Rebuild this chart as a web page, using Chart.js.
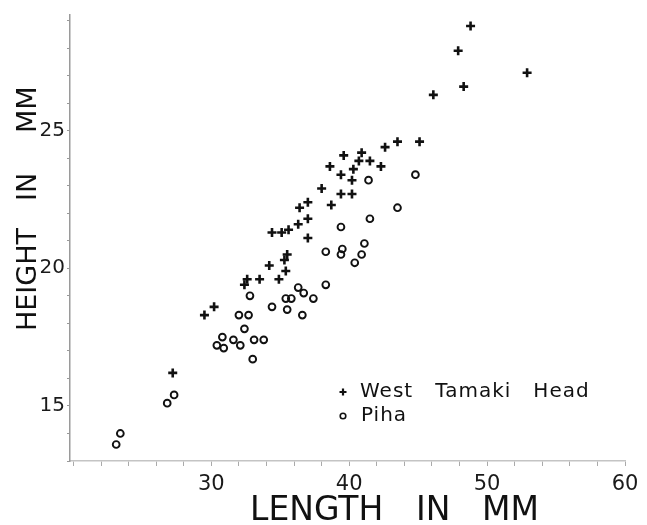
<!DOCTYPE html>
<html>
<head>
<meta charset="utf-8">
<script src="https://cdn.jsdelivr.net/npm/chart.js@4"></script>
<style>
    body { margin: 0; background: #fff; }
</style>
</head>
<body>
<canvas id="shellChart" width="647" height="525"></canvas>
<script>
const westLength = [48.8, 47.9, 52.9, 48.3, 46.1, 45.1, 43.5, 42.6, 40.9, 39.6, 40.7, 41.5, 42.3, 38.6, 40.3, 39.4, 40.2, 38.0, 39.4, 40.2,
    37.0, 36.4, 38.7, 37.0, 36.3, 35.6, 35.1, 34.4, 37.0, 35.5, 35.3, 34.2, 35.4, 33.5, 34.9, 32.6, 32.4, 30.2, 29.5, 27.2];
const westHeight = [28.8, 27.9, 27.1, 26.6, 26.3, 24.6, 24.6, 24.4, 24.2, 24.1, 23.9, 23.9, 23.7, 23.7, 23.6, 23.4, 23.2, 22.9, 22.7, 22.7,
    22.4, 22.2, 22.3, 21.8, 21.6, 21.4, 21.3, 21.3, 21.1, 20.5, 20.3, 20.1, 19.9, 19.6, 19.6, 19.6, 19.4, 18.6, 18.3, 16.2];

const pihaLength = [44.8, 41.4, 43.5, 41.5, 39.4, 41.1, 40.9, 40.4, 39.5, 39.4, 38.3, 38.3, 36.3, 36.7, 37.4, 35.4, 35.8, 35.5,
    36.6, 34.4, 32.8, 32.0, 32.7, 32.4, 30.8, 30.4, 30.9, 31.6, 32.1, 33.1, 33.8, 33.0, 27.3, 26.8, 23.4, 23.1];
const pihaHeight = [23.4, 23.2, 22.2, 21.8, 21.5, 20.9, 20.5, 20.2, 20.7, 20.5, 20.6, 19.4, 19.3, 19.1, 18.9, 18.9, 18.9, 18.5,
    18.3, 18.6, 19.0, 18.3, 18.3, 17.8, 17.5, 17.2, 17.1, 17.4, 17.2, 17.4, 17.4, 16.7, 15.4, 15.1, 14.0, 13.6];

const xTickLabels = [30, 40, 50, 60];
const yTickLabels = [15, 20, 25];
const seriesNames = ['West Tamaki Head', 'Piha'];

const font = '"DejaVu Sans", sans-serif';

function toPoints(xs, ys) {
    return xs.map((x, i) => ({ x: x, y: ys[i] }));
}

// titles and the legend box inside the plot are drawn by hand
const labelsPlugin = {
    id: 'labels',
    afterDraw(chart) {
        const ctx = chart.ctx;
        ctx.save();
        ctx.fillStyle = '#111';
        ctx.textBaseline = 'alphabetic';

        // x title
        ctx.font = '33px ' + font;
        ctx.textAlign = 'left';
        ctx.fillText('LENGTH', 250, 520);
        ctx.fillText('IN', 416, 520);
        ctx.fillText('MM', 482, 520);

        // y title, rotated
        ctx.translate(36, 0);
        ctx.rotate(-Math.PI / 2);
        ctx.font = '27px ' + font;
        ctx.fillText('HEIGHT', -331, 0);
        ctx.fillText('IN', -201, 0);
        ctx.fillText('MM', -133, 0);
        ctx.restore();

        // legend
        ctx.save();
        const sets = chart.data.datasets;
        const rows = [392, 416];
        sets.forEach((ds, i) => {
            ctx.strokeStyle = '#111';
            ctx.fillStyle = i === 0 ? '#111' : '#fff';
            ctx.lineWidth = i === 0 ? 2.2 : 1.6;
            Chart.helpers.drawPoint(ctx, {
                pointStyle: ds.pointStyle,
                radius: i === 0 ? 3.5 : 2.8,
                borderWidth: ctx.lineWidth
            }, 343, rows[i]);
        });
        ctx.fillStyle = '#111';
        ctx.font = '20px ' + font;
        ctx.letterSpacing = '1px';
        ctx.textAlign = 'left';
        ctx.textBaseline = 'middle';
        ctx.fillText(sets[0].label.split(' ').join('   '), 360, rows[0]);
        ctx.fillText(sets[1].label, 361, rows[1]);
        ctx.restore();
    }
};

const ctx = document.getElementById('shellChart').getContext('2d');

new Chart(ctx, {
    type: 'scatter',
    data: {
        datasets: [{
            label: seriesNames[0],
            data: toPoints(westLength, westHeight),
            pointStyle: 'cross',
            pointRadius: 4.5,
            borderWidth: 2.6,
            borderColor: '#111',
            backgroundColor: '#111'
        }, {
            label: seriesNames[1],
            data: toPoints(pihaLength, pihaHeight),
            pointStyle: 'circle',
            pointRadius: 3.4,
            borderWidth: 1.9,
            borderColor: '#111',
            backgroundColor: 'rgba(255,255,255,0)'
        }]
    },
    options: {
        responsive: false,
        animation: false,
        layout: {
            padding: { left: 0, top: 15, right: 22, bottom: 0 }
        },
        plugins: {
            legend: { display: false },
            tooltip: { enabled: false }
        },
        scales: {
            x: {
                type: 'linear',
                min: 19.75,
                max: 60,
                afterFit: (scale) => { scale.height = 64; },
                border: { color: '#c4c4c4', width: 1.5 },
                grid: { drawOnChartArea: false, color: '#aaa', tickLength: 5 },
                ticks: {
                    stepSize: 2,
                    includeBounds: false,
                    autoSkip: false,
                    maxRotation: 0,
                    padding: 6,
                    color: '#1a1a1a',
                    font: { family: font, size: 21 },
                    callback: (value) => xTickLabels.includes(value) ? String(value) : ''
                }
            },
            y: {
                type: 'linear',
                min: 13,
                max: 29.2,
                afterFit: (scale) => { scale.width = 70; },
                border: { color: '#9a9a9a', width: 1.5 },
                grid: { drawOnChartArea: false, color: '#999', tickLength: 3 },
                ticks: {
                    stepSize: 1,
                    includeBounds: false,
                    autoSkip: false,
                    padding: 2,
                    color: '#1a1a1a',
                    font: { family: font, size: 20 },
                    callback: (value) => yTickLabels.includes(value) ? String(value) : ''
                }
            }
        }
    },
    plugins: [labelsPlugin]
});
</script>
</body>
</html>
